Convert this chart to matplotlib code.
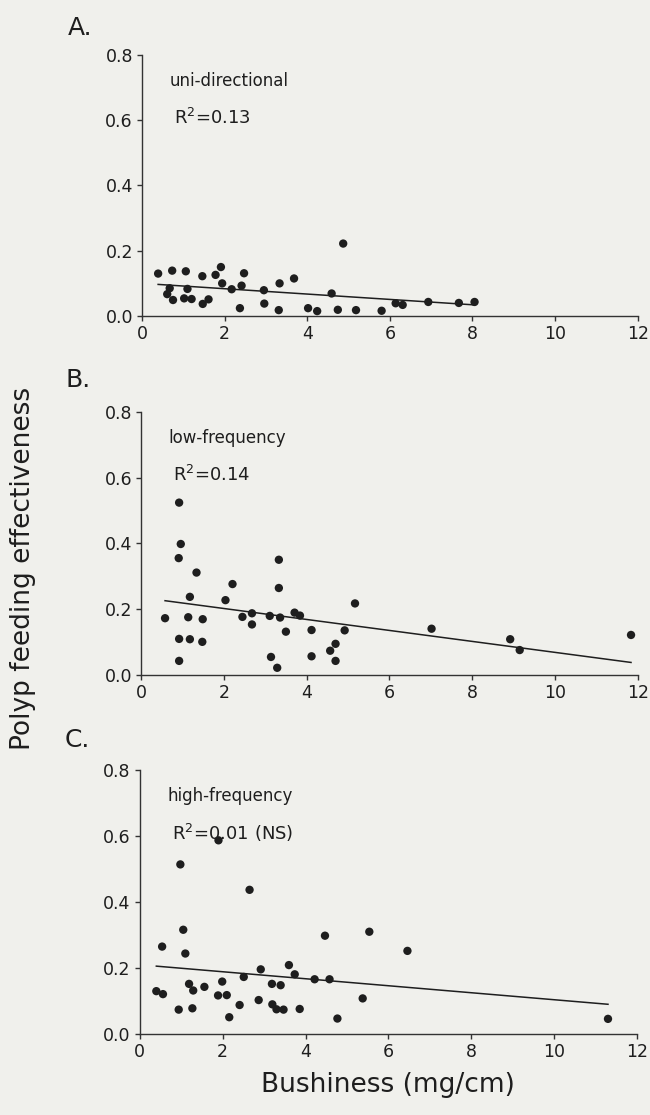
import numpy as np
import matplotlib
matplotlib.use("Agg")
import matplotlib.pyplot as plt

# ---- data ----
a_x = [0.39, 0.73, 1.06, 1.46, 1.78, 1.91, 2.47, 0.67, 0.61, 0.75, 1.10, 1.02, 1.20,
       1.47, 1.61, 1.94, 2.17, 2.41, 2.37, 2.95, 2.96, 3.33, 3.68, 3.31, 4.02, 4.24,
       4.59, 4.87, 4.74, 5.18, 5.80, 6.14, 6.31, 6.93, 7.67, 8.05]
a_y = [0.130, 0.139, 0.137, 0.122, 0.126, 0.150, 0.131, 0.085, 0.067, 0.049, 0.083,
       0.054, 0.052, 0.037, 0.051, 0.100, 0.082, 0.093, 0.024, 0.079, 0.038, 0.100,
       0.115, 0.018, 0.024, 0.015, 0.069, 0.222, 0.019, 0.018, 0.016, 0.039, 0.034,
       0.043, 0.040, 0.043]

b_x = [0.58, 0.92, 0.96, 0.91, 0.92, 0.92, 1.18, 1.14, 1.18, 1.34, 1.49, 1.48, 2.04,
       2.21, 2.45, 2.68, 2.68, 3.11, 3.14, 3.29, 3.33, 3.33, 3.36, 3.50, 3.71, 3.84,
       4.12, 4.12, 4.57, 4.70, 4.70, 4.92, 5.17, 7.02, 8.92, 9.15, 11.84]
b_y = [0.172, 0.524, 0.398, 0.355, 0.109, 0.042, 0.108, 0.175, 0.237, 0.311, 0.169,
       0.100, 0.227, 0.276, 0.176, 0.187, 0.153, 0.179, 0.054, 0.021, 0.350, 0.264,
       0.174, 0.131, 0.189, 0.180, 0.136, 0.056, 0.073, 0.094, 0.042, 0.135, 0.217,
       0.140, 0.108, 0.075, 0.121]

c_x = [0.40, 0.56, 0.54, 0.94, 0.98, 1.05, 1.10, 1.19, 1.29, 1.27, 1.56, 1.90, 1.89,
       1.99, 2.10, 2.16, 2.41, 2.51, 2.65, 2.87, 2.92, 3.19, 3.20, 3.30, 3.40, 3.47,
       3.60, 3.74, 3.86, 4.22, 4.47, 4.58, 4.77, 5.38, 5.54, 6.46, 11.30]
c_y = [0.130, 0.121, 0.265, 0.074, 0.514, 0.316, 0.244, 0.152, 0.132, 0.078, 0.143,
       0.587, 0.117, 0.159, 0.118, 0.051, 0.088, 0.173, 0.437, 0.103, 0.196, 0.152,
       0.090, 0.075, 0.148, 0.074, 0.209, 0.181, 0.076, 0.166, 0.298, 0.166, 0.047,
       0.108, 0.310, 0.252, 0.046]

# regression lines: (intercept, slope)
fit_intercept = [0.100, 0.235, 0.210]
fit_slope = [-0.0082, -0.0167, -0.0106]

panel_letters = ["A.", "B.", "C."]
conditions = ["uni-directional", "low-frequency", "high-frequency"]
r2_labels = ["R$^{2}$=0.13", "R$^{2}$=0.14", "R$^{2}$=0.01 (NS)"]
x_ticks = [0, 2, 4, 6, 8, 10, 12]
y_ticks = [0.0, 0.2, 0.4, 0.6, 0.8]

BG = "#f0f0ec"
INK = "#1e1e1e"

plt.rcParams["font.family"] = ["DejaVu Sans"]
plt.rcParams["mathtext.default"] = "regular"

fig = plt.figure(figsize=(6.5, 11.15), dpi=100, facecolor=BG)

# axes rectangles in figure fraction (left, bottom, width, height)
rects = [(0.2185, 0.7166, 0.7626, 0.2341),
         (0.2170, 0.3949, 0.7640, 0.2356),
         (0.2150, 0.0726, 0.7650, 0.2368)]
label_pos = [(0.105, 0.975), (0.100, 0.659), (0.100, 0.336)]

datasets = [(a_x, a_y), (b_x, b_y), (c_x, c_y)]

for i, ((xs, ys), rect) in enumerate(zip(datasets, rects)):
    ax = fig.add_axes(rect)
    ax.set_facecolor(BG)
    xs = np.asarray(xs)
    ys = np.asarray(ys)
    ax.scatter(xs, ys, s=36, color=INK, edgecolors="none", zorder=3, clip_on=False)
    xl = np.array([xs.min(), xs.max()])
    ax.plot(xl, fit_intercept[i] + fit_slope[i] * xl, color=INK, lw=1.1, zorder=2)
    ax.set_xlim(0, 12)
    ax.set_ylim(0, 0.8)
    ax.set_xticks(x_ticks)
    ax.set_yticks(y_ticks)
    ax.set_xticklabels([str(t) for t in x_ticks])
    ax.set_yticklabels([f"{t:.1f}" for t in y_ticks])
    for s in ("top", "right"):
        ax.spines[s].set_visible(False)
    for s in ("left", "bottom"):
        ax.spines[s].set_color("#333333")
        ax.spines[s].set_linewidth(1.0)
    ax.tick_params(direction="out", length=3.5, width=1.0, color="#333333",
                   labelsize=12.5, labelcolor=INK, pad=3)
    ax.text(0.055, 0.90, conditions[i], transform=ax.transAxes, fontsize=12,
            color=INK, ha="left", va="center")
    ax.text(0.065, 0.76, r2_labels[i], transform=ax.transAxes, fontsize=13,
            color=INK, ha="left", va="center")
    fig.text(label_pos[i][0], label_pos[i][1], panel_letters[i], fontsize=18,
             color=INK, ha="left", va="center")

fig.text(0.036, 0.490, "Polyp feeding effectiveness", rotation=90, fontsize=19,
         color=INK, ha="center", va="center")
fig.text(0.597, 0.027, "Bushiness (mg/cm)", fontsize=19, color=INK,
         ha="center", va="center")

fig.savefig("out.png", dpi=100, facecolor=BG)
